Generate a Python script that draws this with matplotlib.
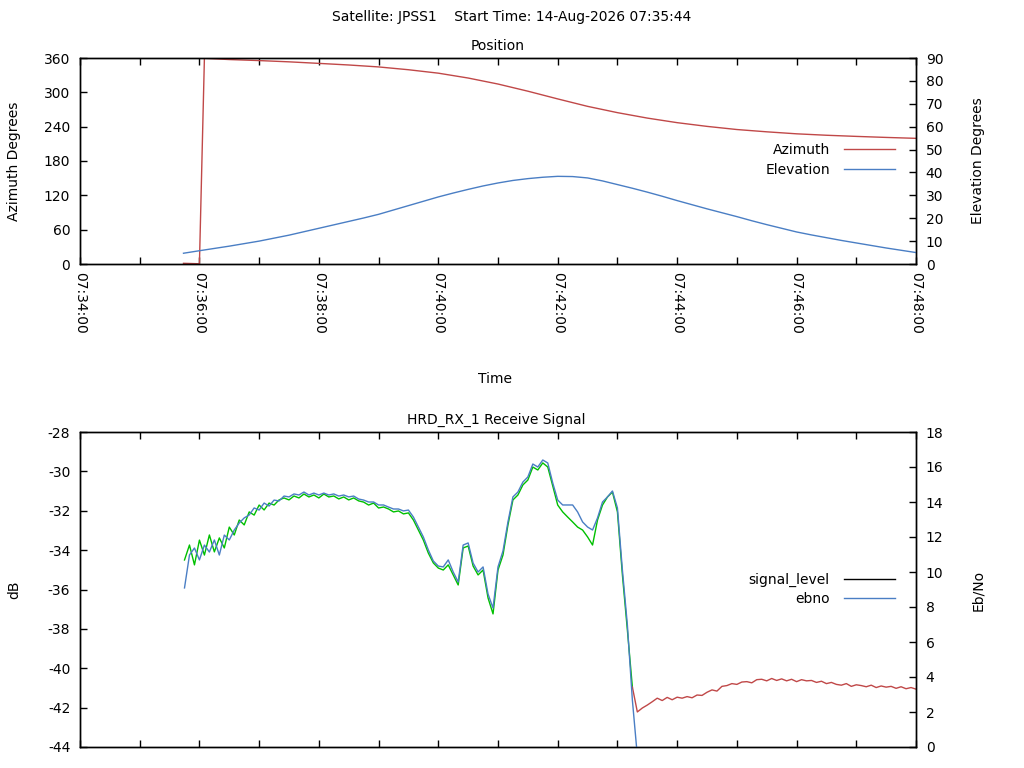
import numpy as np
import matplotlib
matplotlib.use('Agg')
import matplotlib.pyplot as plt

plt.rcParams['font.family'] = ['DejaVu Sans']
plt.rcParams['font.size'] = 10
plt.rcParams['axes.unicode_minus'] = False

# time is in seconds after 07:34:00
tick_seconds = [0, 120, 240, 360, 480, 600, 720, 840]
tick_labels = ['07:34:00', '07:36:00', '07:38:00', '07:40:00',
               '07:42:00', '07:44:00', '07:46:00', '07:48:00']

# position of the satellite
az_t = [104, 110, 120, 125, 150, 180, 210, 240, 270, 300,
        330, 360, 390, 420, 450, 480, 510, 540, 570, 600,
        630, 660, 690, 720, 750, 780, 810, 840]
azimuth = [1.2, 0.9, 0.4, 359.5, 357.3, 355.5, 353.3, 350.6, 347.8, 344.4,
           339.5, 333.5, 325.0, 314.5, 302.0, 288.5, 275.5, 264.5, 255.0, 247.0,
           240.5, 235.0, 231.0, 227.5, 225.0, 223.0, 221.2, 219.6]

el_t = [104, 120, 135, 150, 165, 180, 195, 210, 225, 240,
        255, 270, 285, 300, 315, 330, 345, 360, 375, 390,
        405, 420, 435, 450, 465, 480, 495, 510, 525, 540,
        555, 570, 585, 600, 615, 630, 645, 660, 675, 690,
        705, 720, 735, 750, 765, 780, 795, 810, 825, 840]
elevation = [4.7, 5.8, 6.8, 7.8, 8.9, 10.0, 11.3, 12.6, 14.1, 15.6,
             17.1, 18.6, 20.1, 21.7, 23.6, 25.5, 27.4, 29.3, 31.0, 32.6,
             34.1, 35.4, 36.5, 37.3, 37.9, 38.3, 38.2, 37.6, 36.3, 34.7,
             33.1, 31.4, 29.6, 27.7, 25.9, 24.1, 22.4, 20.7, 18.9, 17.2,
             15.6, 14.0, 12.7, 11.5, 10.3, 9.2, 8.1, 7.0, 6.0, 5.0]

# receive signal, sampled every 5 s
sig_t = np.arange(105, 560, 5)
signal_locked = [
    -34.50, -33.74, -34.75, -33.49, -34.25, -33.23, -34.09, -33.38, -33.89, -32.83,
    -33.23, -32.47, -32.72, -32.06, -32.22, -31.71, -31.96, -31.61, -31.71, -31.45,
    -31.35, -31.45, -31.25, -31.35, -31.15, -31.30, -31.20, -31.35, -31.15, -31.30,
    -31.25, -31.40, -31.30, -31.45, -31.35, -31.50, -31.56, -31.71, -31.61, -31.86,
    -31.81, -31.91, -32.06, -32.01, -32.16, -32.11, -32.47, -32.98, -33.49, -34.15,
    -34.65, -34.91, -35.01, -34.75, -35.26, -35.77, -33.89, -33.79, -34.81, -35.26,
    -35.01, -36.43, -37.24, -35.01, -34.25, -32.72, -31.45, -31.20, -30.69, -30.44,
    -29.78, -29.93, -29.57, -29.78, -30.74, -31.71, -32.06, -32.32, -32.57, -32.83,
    -32.98, -33.33, -33.74, -32.47, -31.71, -31.30, -31.05, -32.06, -35.26, -38.06,
    -40.95]

red_t = np.arange(555, 841, 5)
signal_unlocked = [
    -40.95, -42.22, -42.02, -41.87, -41.70, -41.52, -41.64, -41.48, -41.60, -41.47,
    -41.52, -41.44, -41.50, -41.36, -41.38, -41.22, -41.10, -41.16, -40.92, -40.88,
    -40.78, -40.82, -40.70, -40.68, -40.74, -40.58, -40.56, -40.64, -40.52, -40.62,
    -40.54, -40.64, -40.56, -40.68, -40.58, -40.64, -40.62, -40.72, -40.66, -40.78,
    -40.72, -40.82, -40.86, -40.78, -40.92, -40.84, -40.88, -40.94, -40.86, -40.98,
    -40.90, -40.96, -40.92, -41.02, -40.94, -41.04, -40.98, -41.06]

ebno_t = np.arange(105, 565, 5)
ebno = [
    9.09, 10.97, 11.37, 10.69, 11.54, 11.14, 11.83, 10.97, 12.11, 11.83,
    12.40, 12.80, 13.09, 13.26, 13.66, 13.54, 13.94, 13.77, 14.11, 14.06,
    14.34, 14.29, 14.46, 14.40, 14.57, 14.40, 14.51, 14.40, 14.51, 14.40,
    14.46, 14.34, 14.40, 14.29, 14.34, 14.17, 14.11, 14.00, 14.00, 13.83,
    13.83, 13.71, 13.60, 13.60, 13.49, 13.54, 13.14, 12.57, 12.00, 11.26,
    10.63, 10.34, 10.29, 10.69, 10.00, 9.43, 11.54, 11.66, 10.51, 10.00,
    10.29, 8.74, 7.94, 10.29, 11.20, 12.86, 14.29, 14.57, 15.14, 15.43,
    16.17, 16.00, 16.40, 16.23, 15.09, 14.11, 13.83, 13.83, 13.83, 13.43,
    12.86, 12.57, 12.40, 13.09, 14.00, 14.29, 14.63, 13.66, 10.11, 6.97,
    2.69, -0.5]

RED = '#c04848'
BLUE = '#4a7ec4'
GREEN = '#00c000'

W, H = 1024, 768
fig = plt.figure(figsize=(W / 100, H / 100), dpi=100)

ax_pos = fig.add_axes([80 / W, 1 - 264 / H, 836 / W, 206 / H])
ax_el = ax_pos.twinx()
ax_sig = fig.add_axes([80 / W, 1 - 747 / H, 836 / W, 315 / H])
ax_eb = ax_sig.twinx()


def style_axes(ax):
    for sp in ax.spines.values():
        sp.set_linewidth(1.0)
        sp.set_color('black')
    ax.tick_params(which='both', direction='in', length=5, width=1, labelsize=10)
    ax.tick_params(axis='y', pad=7)
    ax.tick_params(axis='x', which='both', top=True, bottom=True, pad=6)


for ax in (ax_pos, ax_el, ax_sig, ax_eb):
    style_axes(ax)

# Position plot
az_line, = ax_pos.plot(az_t, azimuth, color=RED, lw=1.0, label='Azimuth')
el_line, = ax_el.plot(el_t, elevation, color=BLUE, lw=1.0, label='Elevation')
ax_pos.set_xlim(0, 840)
ax_pos.set_ylim(0, 360)
ax_pos.set_yticks(range(0, 361, 60))
ax_el.set_ylim(0, 90)
ax_el.set_yticks(range(0, 91, 10))
ax_pos.set_xticks(tick_seconds)
ax_pos.set_xticklabels(tick_labels, rotation=-90)
ax_pos.set_xticks(range(60, 841, 120), minor=True)

ax_el.legend(handles=[az_line, el_line], loc='center right',
             bbox_to_anchor=(0.975, 0.505), frameon=False, markerfirst=False,
             handlelength=3.7, handletextpad=1.0, borderpad=0, borderaxespad=0,
             labelspacing=0.4, fontsize=10)

# Receive signal plot
ax_sig.plot(sig_t, signal_locked, color=GREEN, lw=1.0)
ax_sig.plot(red_t, signal_unlocked, color=RED, lw=1.0)
ax_eb.plot(ebno_t, ebno, color=BLUE, lw=1.0)
ax_sig.set_xlim(0, 840)
ax_sig.set_ylim(-44, -28)
ax_sig.set_yticks(range(-44, -27, 2))
ax_eb.set_ylim(0, 18)
ax_eb.set_yticks(range(0, 19, 2))
ax_sig.set_xticks(tick_seconds)
ax_sig.set_xticklabels([])
ax_sig.set_xticks(range(60, 841, 120), minor=True)

sig_handle = plt.Line2D([], [], color='black', lw=1.0, label='signal_level')
eb_handle = plt.Line2D([], [], color=BLUE, lw=1.0, label='ebno')
ax_eb.legend(handles=[sig_handle, eb_handle], loc='center right',
             bbox_to_anchor=(0.975, 0.5), frameon=False, markerfirst=False,
             handlelength=3.7, handletextpad=1.0, borderpad=0, borderaxespad=0,
             labelspacing=0.4, fontsize=10)

# titles and axis labels
fig.text(512 / W, 1 - 17 / H, 'Satellite: JPSS1    Start Time: 14-Aug-2026 07:35:44',
         ha='center', va='center', fontsize=10)
fig.text(498 / W, 1 - 46 / H, 'Position', ha='center', va='center', fontsize=10)
fig.text(496 / W, 1 - 420 / H, 'HRD_RX_1 Receive Signal', ha='center', va='center', fontsize=10)
fig.text(495 / W, 1 - 379 / H, 'Time', ha='center', va='center', fontsize=10)
fig.text(14 / W, 1 - 161 / H, 'Azimuth Degrees', rotation=90, ha='center', va='center', fontsize=10)
fig.text(978 / W, 1 - 161 / H, 'Elevation Degrees', rotation=90, ha='center', va='center', fontsize=10)
fig.text(14 / W, 1 - 590 / H, 'dB', rotation=90, ha='center', va='center', fontsize=10)
fig.text(978 / W, 1 - 590 / H, 'Eb/No', rotation=90, ha='center', va='center', fontsize=10)

fig.savefig('out.png', dpi=100)
